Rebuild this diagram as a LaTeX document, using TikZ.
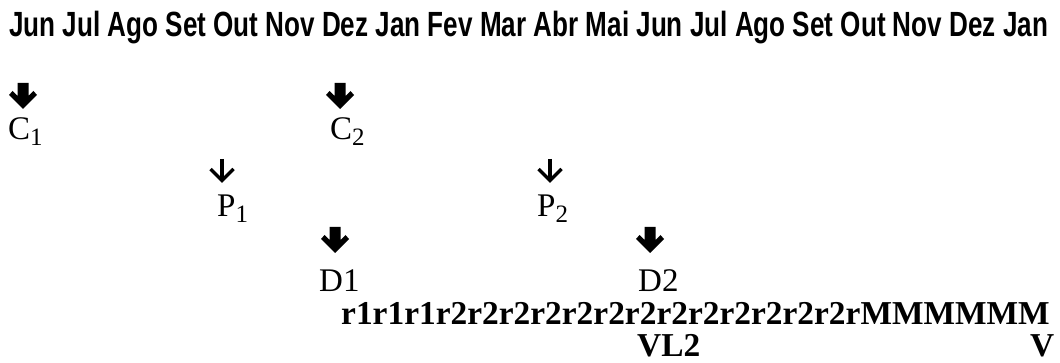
\documentclass[tikz,border=0pt]{standalone}
\usepackage{fontspec}
\setmainfont{Liberation Serif}
\newfontfamily\headfont{Liberation Sans}
\newcommand\lowidx[1]{\raisebox{-6pt}{\fontsize{25}{25}\selectfont #1}}
\tikzset{
  lbl/.style={anchor=base west, inner sep=0pt, font=\fontsize{33}{33}\selectfont},
  blbl/.style={lbl, font=\bfseries\fontsize{33.4}{33}\selectfont},
  hdr/.style={anchor=base west, inner sep=0pt, font=\headfont\bfseries\fontsize{35}{35}\selectfont},
  boldarrow/.pic={\fill (-5.5,0) -- (5.5,0) -- (5.5,-13) -- (10.5,-8) -- (14,-12) -- (0,-26)
                        -- (-14,-12) -- (-10.5,-8) -- (-5.5,-13) -- cycle;},
  thinarrow/.pic={\draw[line width=3.2pt] (0,0) -- (0,-20);
                  \draw[line width=3.2pt, line join=miter] (-11.5,-10) -- (0,-21.5) -- (11.5,-10);}
}
\begin{document}
\begin{tikzpicture}[x=1pt,y=1pt]
\useasboundingbox (0,0) rectangle (1060,-363);

% month header
\node[hdr] (months) at (9,-37) {\scalebox{0.745}[1]{Jun Jul Ago Set Out Nov Dez Jan Fev Mar Abr Mai Jun Jul Ago Set Out Nov Dez Jan}};

% labels
\node[lbl] (c1) at (8,-140) {C\lowidx{1}};
\node[lbl] (c2) at (330,-140) {C\lowidx{2}};
\node[lbl] (p1) at (217,-217) {P\lowidx{1}};
\node[lbl] (p2) at (537,-217) {P\lowidx{2}};
\node[lbl] (d1) at (319,-291) {D1};
\node[lbl] (d2) at (638,-291) {D2};
\node[blbl] (seq) at (341,-324) {r1r1r1r2r2r2r2r2r2r2r2r2r2r2r2r2rMMMMMM};
\node[blbl] (vl2) at (637,-356) {VL2};
\node[blbl] (v) at (1030,-356) {V};

% markers above the labels
\pic (ac1) at (23,-83) {boldarrow};
\pic (ac2) at (340,-83) {boldarrow};
\pic (ap1) at (222,-159) {thinarrow};
\pic (ap2) at (550,-159) {thinarrow};
\pic (ad1) at (335,-227) {boldarrow};
\pic (ad2) at (650,-227) {boldarrow};
\end{tikzpicture}
\end{document}
